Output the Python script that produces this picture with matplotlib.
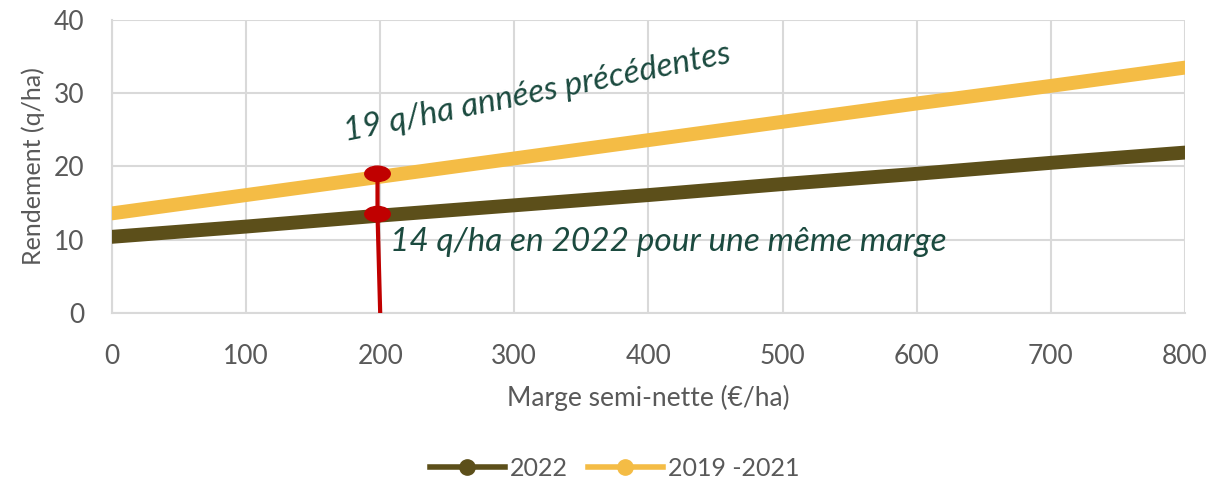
import matplotlib.pyplot as plt
from matplotlib.patches import Ellipse

# marge semi-nette (€/ha) et rendement (q/ha)
marge = [0, 100, 200, 300, 400, 500, 600, 700, 800]
rdt_2022 = [10.4, 11.8, 13.3, 14.7, 16.1, 17.6, 19.0, 20.5, 21.9]
rdt_2019_2021 = [13.6, 16.1, 18.6, 21.1, 23.6, 26.1, 28.6, 31.0, 33.5]

# repère à 200 €/ha
repere_x = [198, 198, 200]
repere_y = [19, 13.5, 0]

brun = "#5c4f1a"
jaune = "#f4bc45"
rouge = "#c00000"
vert = "#1b4a3f"
gris = "#595959"

plt.rcParams['font.family'] = ['Lato', 'DejaVu Sans']

fig = plt.figure(figsize=(12.29, 4.84), dpi=100)
ax = fig.add_axes([0.0911, 0.3533, 0.8730, 0.6054])

ax.plot(marge, rdt_2022, color=brun, lw=10, solid_capstyle='round', label="2022", zorder=3)
ax.plot(marge, rdt_2019_2021, color=jaune, lw=10, solid_capstyle='round', label="2019 -2021", zorder=3)

ax.plot(repere_x, repere_y, color=rouge, lw=3, zorder=4)
for x, y in zip(repere_x[:2], repere_y[:2]):
    ax.add_patch(Ellipse((x, y), 19, 2.1, color=rouge, zorder=5))

ax.text(175, 22.6, "19 q/ha années précédentes", color=vert, fontsize=24, style='italic',
        rotation=11.5, rotation_mode='anchor', ha='left', va='bottom')
ax.text(207, 7.6, "14 q/ha en 2022 pour une même marge", color=vert, fontsize=24,
        style='italic', ha='left', va='bottom')

ax.set_xlim(0, 800)
ax.set_ylim(0, 40)
ax.set_xticks(range(0, 801, 100))
ax.set_yticks(range(0, 41, 10))
ax.grid(color="#d9d9d9", lw=1.5)
ax.set_axisbelow(True)
for s in ['top', 'right']:
    ax.spines[s].set_visible(False)
for s in ['left', 'bottom']:
    ax.spines[s].set_color("#d9d9d9")
    ax.spines[s].set_linewidth(1.5)
ax.tick_params(length=0, labelsize=19, labelcolor=gris)
ax.tick_params(axis='x', pad=22)
ax.tick_params(axis='y', pad=20)
ax.set_xlabel("Marge semi-nette (€/ha)", fontsize=19, color=gris, labelpad=12)
ax.set_ylabel("Rendement (q/ha)", fontsize=18, color=gris, labelpad=6)

handles = [
    plt.Line2D([], [], color=brun, lw=4, marker='o', ms=11),
    plt.Line2D([], [], color=jaune, lw=4, marker='o', ms=11),
]
fig.legend(handles, ["2022", "2019 -2021"], loc='center', bbox_to_anchor=(0.5, 0.033),
           ncol=2, frameon=False, fontsize=18, labelcolor=gris, handlelength=3.0,
           columnspacing=0.8, handletextpad=0.2)

fig.savefig("out.png", dpi=100)
